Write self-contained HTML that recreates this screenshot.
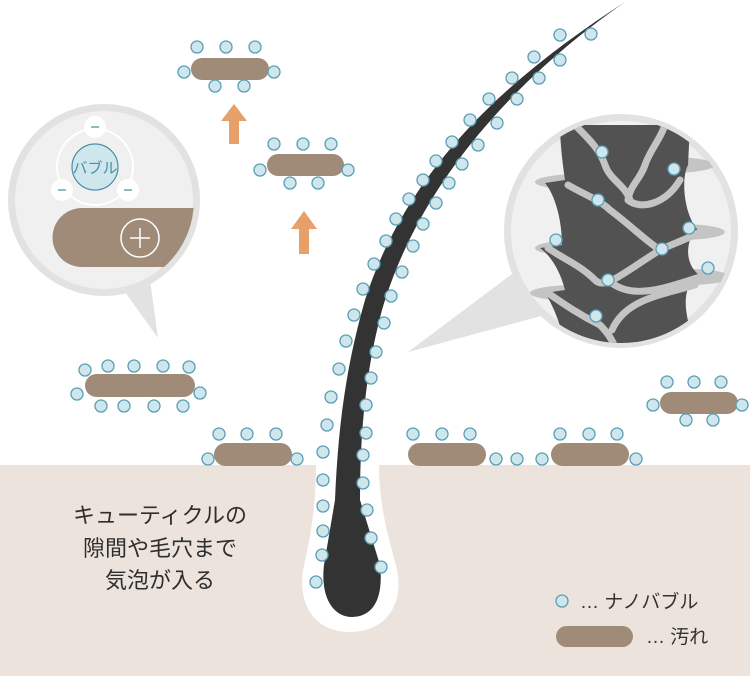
<!DOCTYPE html>
<html><head><meta charset="utf-8"><style>
html,body{margin:0;padding:0;background:#fff;}
svg{display:block;}
text{font-family:"Liberation Sans","Noto Sans CJK JP",sans-serif;}
</style></head><body>
<svg width="750" height="676" viewBox="0 0 750 676" xmlns="http://www.w3.org/2000/svg">
<defs>
  <clipPath id="cr"><circle cx="621" cy="231" r="112"/></clipPath>
  <clipPath id="cl"><circle cx="104" cy="200" r="90"/></clipPath>
</defs>
<rect x="0" y="465" width="750" height="211" fill="#ebe3dc"/>
<path d="M316,465 L379,465 C379,500 386,530 396,565 C406,605 385,632 350,632 C315,632 296,605 304,565 C312,530 316,500 316,465 Z" fill="#fff"/>

<!-- right magnifier -->
<path d="M408,352 L520,268 L545,315 Z" fill="#e2e2e2"/>
<circle cx="621" cy="231" r="117" fill="#e2e2e2"/>
<circle cx="621" cy="231" r="110" fill="#f0f0f0"/>
<g clip-path="url(#cr)">
  <ellipse cx="580" cy="182" rx="45" ry="8" fill="#c4c4c4"/>
  <ellipse cx="670" cy="165" rx="45" ry="8" fill="#c4c4c4"/>
  <ellipse cx="580" cy="248" rx="45" ry="8" fill="#c4c4c4"/>
  <ellipse cx="680" cy="232" rx="45" ry="8" fill="#c4c4c4"/>
  <ellipse cx="575" cy="293" rx="45" ry="8" fill="#c4c4c4"/>
  <ellipse cx="690" cy="277" rx="40" ry="8" fill="#c4c4c4"/>
  <path d="M560,125 L690,125 L688,165 C680,180 685,220 700,232 L690,240 C685,255 690,270 702,277 L690,285 C680,300 690,330 695,345 L565,345 C560,320 550,300 545,293 L565,290 C560,270 550,255 540,248 L562,245 C562,220 555,195 545,183 L565,180 C562,160 560,140 560,125 Z" fill="#525252"/>
  <g fill="none" stroke="#c4c4c4" stroke-width="7" stroke-linecap="round">
    <path d="M575,125 C590,140 600,150 605,165 C610,180 625,185 630,200"/>
    <path d="M665,125 C660,140 650,150 645,165 C640,180 630,185 628,200"/>
    <path d="M568,185 C585,195 600,200 610,210 C630,225 645,240 660,250 C670,245 685,240 700,232"/>
    <path d="M628,200 C640,210 665,205 680,180"/>
    <path d="M548,248 C565,260 580,265 595,280 C605,290 620,275 660,250"/>
    <path d="M548,293 C565,305 580,315 600,325 C610,335 615,345 615,350"/>
    <path d="M608,280 C630,300 660,290 700,277"/>
    <path d="M612,330 C625,300 660,295 695,285"/>
  </g>
</g>

<!-- left magnifier -->
<path d="M158,338 L120,285 L150,280 Z" fill="#e2e2e2"/>
<circle cx="104" cy="200" r="96" fill="#e2e2e2"/>
<circle cx="104" cy="200" r="89" fill="#f0f0f0"/>
<g clip-path="url(#cl)">
  <path d="M82,208 L200,208 L200,267 L82,267 A29.5,29.5 0 0 1 82,208 Z" fill="#a08a78"/>
</g>
<circle cx="140" cy="238" r="19" fill="none" stroke="#fff" stroke-width="1.5"/>
<path d="M140,228 V248 M130,238 H150" stroke="#fff" stroke-width="1.5"/>
<circle cx="95" cy="167" r="38" fill="none" stroke="#fff" stroke-width="2"/>
<circle cx="95" cy="167" r="23" fill="#cfe6ec" stroke="#4a8fa5" stroke-width="1.2"/>
<text x="95" y="173" font-size="15" fill="#4a8fa5" text-anchor="middle">バブル</text>
<g fill="#fff"><circle cx="95" cy="127" r="11"/><circle cx="62" cy="190" r="11"/><circle cx="128" cy="190" r="11"/></g>
<g stroke="#4a8fa5" stroke-width="1.2"><path d="M91,127H99M58,190H66M124,190H132"/></g>

<!-- hair -->
<path d="M625,2 C520,70 410,160 365,300 C345,370 338,430 335,500 L324,565 C320,600 335,617 352,617 C372,617 384,600 380,565 L360,500 C360,430 366,370 382,310 C420,180 520,75 625,2 Z" fill="#333"/>

<!-- arrows -->
<path d="M234,104 L247,121 L239,121 L239,144 L229,144 L229,121 L221,121 Z" fill="#e8a06a"/>
<path d="M304,211 L317,229 L309,229 L309,254 L299,254 L299,229 L291,229 Z" fill="#e8a06a"/>

<g fill="#a08a78">
  <rect x="191" y="58" width="78" height="22" rx="11"/>
  <rect x="267" y="154" width="77" height="22" rx="11"/>
  <rect x="85" y="374" width="110" height="23" rx="11.5"/>
  <rect x="214" y="443" width="78" height="23" rx="11.5"/>
  <rect x="408" y="443" width="78" height="23" rx="11.5"/>
  <rect x="551" y="443" width="78" height="23" rx="11.5"/>
  <rect x="660" y="392" width="78" height="22" rx="11"/>
  <rect x="556" y="626" width="77" height="21" rx="10.5"/>
</g>

<g fill="#cfe6ec" stroke="#5a9fb5" stroke-width="1.3">
  <circle cx="197" cy="47" r="6"/><circle cx="226" cy="47" r="6"/><circle cx="255" cy="47" r="6"/><circle cx="184" cy="72" r="6"/><circle cx="274" cy="72" r="6"/><circle cx="215" cy="86" r="6"/><circle cx="244" cy="86" r="6"/>
  <circle cx="274" cy="144" r="6"/><circle cx="303" cy="144" r="6"/><circle cx="331" cy="144" r="6"/><circle cx="260" cy="170" r="6"/><circle cx="348" cy="170" r="6"/><circle cx="290" cy="183" r="6"/><circle cx="318" cy="183" r="6"/>
  <circle cx="85" cy="370" r="6"/><circle cx="108" cy="366" r="6"/><circle cx="134" cy="366" r="6"/><circle cx="163" cy="366" r="6"/><circle cx="189" cy="367" r="6"/><circle cx="101" cy="406" r="6"/><circle cx="124" cy="406" r="6"/><circle cx="154" cy="406" r="6"/><circle cx="183" cy="406" r="6"/><circle cx="77" cy="394" r="6"/><circle cx="200" cy="393" r="6"/>
  <circle cx="219" cy="434" r="6"/><circle cx="247" cy="434" r="6"/><circle cx="276" cy="434" r="6"/><circle cx="208" cy="459" r="6"/><circle cx="297" cy="459" r="6"/>
  <circle cx="413" cy="434" r="6"/><circle cx="442" cy="434" r="6"/><circle cx="470" cy="434" r="6"/><circle cx="496" cy="459" r="6"/><circle cx="517" cy="459" r="6"/>
  <circle cx="560" cy="434" r="6"/><circle cx="589" cy="434" r="6"/><circle cx="617" cy="434" r="6"/><circle cx="542" cy="459" r="6"/><circle cx="636" cy="459" r="6"/>
  <circle cx="667" cy="382" r="6"/><circle cx="694" cy="382" r="6"/><circle cx="721" cy="382" r="6"/><circle cx="653" cy="405" r="6"/><circle cx="742" cy="405" r="6"/><circle cx="686" cy="420" r="6"/><circle cx="713" cy="420" r="6"/>
  <circle cx="560" cy="35" r="6"/><circle cx="534" cy="57" r="6"/><circle cx="512" cy="78" r="6"/><circle cx="489" cy="99" r="6"/><circle cx="470" cy="120" r="6"/><circle cx="452" cy="142" r="6"/><circle cx="436" cy="161" r="6"/><circle cx="423" cy="180" r="6"/><circle cx="409" cy="199" r="6"/><circle cx="396" cy="219" r="6"/><circle cx="386" cy="241" r="6"/><circle cx="374" cy="264" r="6"/><circle cx="363" cy="289" r="6"/><circle cx="354" cy="315" r="6"/><circle cx="346" cy="341" r="6"/><circle cx="339" cy="369" r="6"/><circle cx="331" cy="397" r="6"/><circle cx="327" cy="425" r="6"/>
  <circle cx="323" cy="452" r="6"/><circle cx="323" cy="480" r="6"/><circle cx="323" cy="506" r="6"/><circle cx="323" cy="531" r="6"/><circle cx="322" cy="555" r="6"/><circle cx="316" cy="582" r="6"/>
  <circle cx="591" cy="34" r="6"/><circle cx="560" cy="60" r="6"/><circle cx="539" cy="78" r="6"/><circle cx="517" cy="99" r="6"/><circle cx="497" cy="123" r="6"/><circle cx="478" cy="145" r="6"/><circle cx="462" cy="164" r="6"/><circle cx="449" cy="183" r="6"/><circle cx="436" cy="203" r="6"/><circle cx="423" cy="224" r="6"/><circle cx="413" cy="246" r="6"/><circle cx="402" cy="272" r="6"/><circle cx="391" cy="296" r="6"/><circle cx="384" cy="323" r="6"/><circle cx="376" cy="352" r="6"/><circle cx="371" cy="378" r="6"/><circle cx="366" cy="405" r="6"/><circle cx="366" cy="433" r="6"/>
  <circle cx="363" cy="455" r="6"/><circle cx="363" cy="483" r="6"/><circle cx="367" cy="510" r="6"/><circle cx="371" cy="538" r="6"/><circle cx="381" cy="567" r="6"/>
  <circle cx="602" cy="152" r="6"/><circle cx="674" cy="169" r="6"/><circle cx="598" cy="200" r="6"/><circle cx="689" cy="228" r="6"/><circle cx="556" cy="240" r="6"/><circle cx="662" cy="249" r="6"/><circle cx="608" cy="280" r="6"/><circle cx="708" cy="268" r="6"/><circle cx="596" cy="316" r="6"/>
  <circle cx="562" cy="601" r="6"/>
</g>

<g font-size="22" fill="#2e2e2e" text-anchor="middle">
  <text x="160" y="523">キューティクルの</text>
  <text x="160" y="556">隙間や毛穴まで</text>
  <text x="160" y="588">気泡が入る</text>
</g>
<text x="580" y="608" font-size="19" fill="#333">… ナノバブル</text>
<text x="646" y="643" font-size="19" fill="#333">… 汚れ</text>
</svg>
</body></html>
